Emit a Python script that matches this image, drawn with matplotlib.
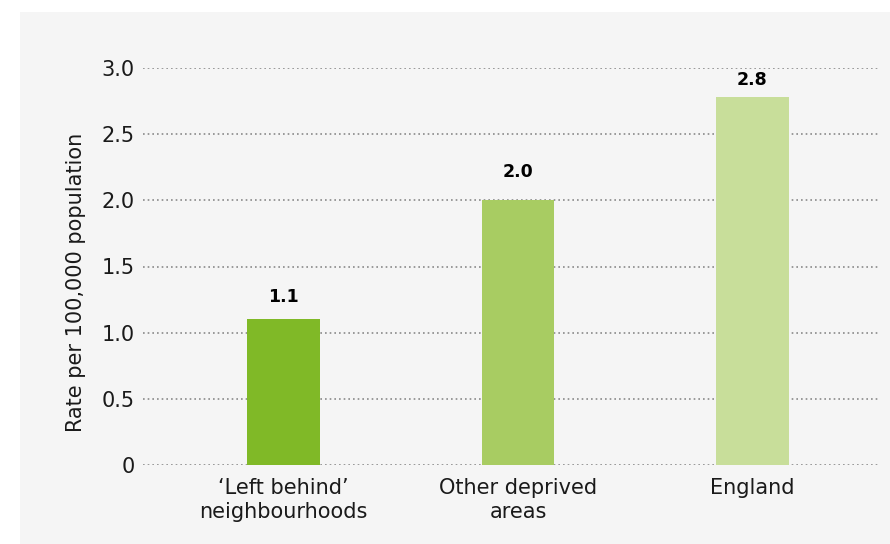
import matplotlib
matplotlib.use('Agg')
import matplotlib.pyplot as plt
from matplotlib.patches import Rectangle

plt.rcParams['font.family'] = ['DejaVu Sans']

categories = ['\u2018Left behind\u2019\nneighbourhoods', 'Other deprived\nareas', 'England']
rates = [1.1, 2.0, 2.78]
value_labels = ['1.1', '2.0', '2.8']
bar_colors = ['#80b927', '#a8cc62', '#c8de9a']
yticks = [0, 0.5, 1.0, 1.5, 2.0, 2.5, 3.0]
ytick_labels = ['0', '0.5', '1.0', '1.5', '2.0', '2.5', '3.0']

fig = plt.figure(figsize=(8.9, 5.44), dpi=100)
fig.patch.set_facecolor('white')
# light grey panel behind the chart
fig.patches.append(Rectangle((20 / 890, 0), 1 - 20 / 890, 1 - 12 / 544,
                             transform=fig.transFigure, facecolor='#f5f5f5',
                             edgecolor='none', zorder=-10))

ax = fig.add_axes([143 / 890, 1 - 465 / 544, (880 - 143) / 890, (465 - 68) / 544])
ax.set_facecolor('none')

x = list(range(len(categories)))
ax.bar(x, rates, width=0.31, color=bar_colors, zorder=3)
ax.set_xlim(-0.6, 2.544)
ax.set_ylim(0, 3.0)

# the top label sits a bit closer to its bar in the original
offsets = [10, 14, 6]
for xi, v, lab, off in zip(x, rates, value_labels, offsets):
    ax.annotate(lab, (xi, v), xytext=(0, off), textcoords='offset points',
                ha='center', va='bottom', fontsize=12.5, fontweight='bold',
                color='black', annotation_clip=False)

ax.set_yticks(yticks)
ax.set_yticklabels(ytick_labels, fontsize=15, color='#1a1a1a')
ax.set_xticks(x)
ax.set_xticklabels(categories, fontsize=15, color='#1a1a1a', linespacing=1.3)
ax.tick_params(axis='both', length=0)
ax.tick_params(axis='y', pad=6)
ax.tick_params(axis='x', pad=9)
ax.yaxis.grid(True, linestyle=(0, (1, 1.8)), color='#8a8a8a', linewidth=1.2, zorder=1)
for s in ax.spines.values():
    s.set_visible(False)

ax.set_ylabel('Rate per 100,000 population', fontsize=15, color='#1a1a1a')
ax.yaxis.set_label_coords(-0.077, 0.46)

fig.savefig('out.png', dpi=100)
